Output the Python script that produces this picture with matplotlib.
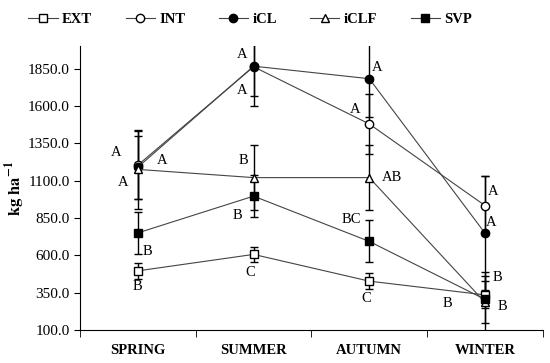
import matplotlib
matplotlib.use("Agg")
import matplotlib.pyplot as plt
from matplotlib.ticker import FixedLocator, FormatStrFormatter

plt.rcParams['font.family'] = ['Liberation Serif', 'DejaVu Serif']
plt.rcParams['mathtext.fontset'] = 'stix'

seasons = ["SPRING", "SUMMER", "AUTUMN", "WINTER"]

ext = [496, 606, 427, 335]
ext_err = [55, 50, 52, 90]
int_ = [1204, 1862, 1479, 933]
int_err = [226, 195, 200, 196]
icl = [1190, 1866, 1782, 748]
icl_err = [210, 265, 256, 380]
iclf = [1175, 1120, 1120, 285]
iclf_err = [265, 215, 218, 205]
svp = [750, 996, 693, 305]
svp_err = [140, 140, 140, 158]

# letters: (series, season index, text, dx px, dy px)
letters = [
    ("INT", 0, "A", -22, 13), ("iCL", 0, "A", 24, 7), ("iCLF", 0, "A", -15, -13),
    ("SVP", 0, "B", 10, -19), ("EXT", 0, "B", 0, -16),
    ("iCL", 1, "A", -11, 12), ("INT", 1, "A", -11, -24), ("iCLF", 1, "B", -10, 17),
    ("SVP", 1, "B", -16, -19), ("EXT", 1, "C", -3, -18),
    ("iCL", 2, "A", 8, 11), ("INT", 2, "A", -14, 14), ("iCLF", 2, "AB", 23, 0),
    ("SVP", 2, "BC", -18, 22), ("EXT", 2, "C", -3, -17),
    ("INT", 3, "A", 8, 14), ("iCL", 3, "A", 6, 11), ("EXT", 3, "B", 12, 17),
    ("SVP", 3, "B", 17, -7), ("iCLF", 3, "B", -38, -1),
]

series = {
    "EXT": (ext, ext_err, "s", "white"),
    "INT": (int_, int_err, "o", "white"),
    "iCL": (icl, icl_err, "o", "black"),
    "iCLF": (iclf, iclf_err, "^", "white"),
    "SVP": (svp, svp_err, "s", "black"),
}

fig = plt.figure(figsize=(5.5, 3.63), dpi=100)
ax = fig.add_axes([0.1455, 0.0909, 0.8415, 0.782])
x = list(range(len(seasons)))

for name, (vals, errs, mk, fc) in series.items():
    ax.errorbar(x, vals, yerr=errs, fmt="none", ecolor="black", elinewidth=1,
                capsize=3, capthick=1, zorder=2)
for name, (vals, errs, mk, fc) in series.items():
    ax.plot(x, vals, color="#444444", lw=0.8, marker=mk, markersize=6,
            markerfacecolor=fc, markeredgecolor="black", markeredgewidth=1,
            label=name, zorder=3)

for name, i, txt, dx, dy in letters:
    ax.annotate(txt, (i, series[name][0][i]), xytext=(dx, dy),
                textcoords="offset pixels", ha="center", va="center",
                fontsize=10.5, zorder=4)

ax.set_xlim(-0.5, 3.5)
ax.set_ylim(100, 2000)
ax.yaxis.set_major_locator(FixedLocator([100, 350, 600, 850, 1100, 1350, 1600, 1850]))
ax.yaxis.set_major_formatter(FormatStrFormatter("%.1f"))
ax.tick_params(axis="y", direction="out", length=4, labelsize=11)
ax.set_xticks(x)
ax.set_xticklabels(seasons, fontweight="bold", fontsize=10.5)
ax.tick_params(axis="x", which="major", length=0, pad=10)
ax.set_xticks([-0.5, 0.5, 1.5, 2.5, 3.5], minor=True)
ax.tick_params(axis="x", which="minor", direction="out", length=5)
ax.spines["top"].set_visible(False)
ax.spines["right"].set_visible(False)
ax.set_ylabel(r"$\mathbf{kg\ ha^{-1}}$", fontsize=12, va="center")
ax.yaxis.set_label_coords(-0.14, 0.5)

fig.legend(loc="upper center", bbox_to_anchor=(0.455, 1.0), ncol=5, frameon=False,
           prop={"weight": "bold", "size": 10.5}, handlelength=2.0,
           columnspacing=2.3, handletextpad=0.3)

fig.savefig("out.png", dpi=100)
